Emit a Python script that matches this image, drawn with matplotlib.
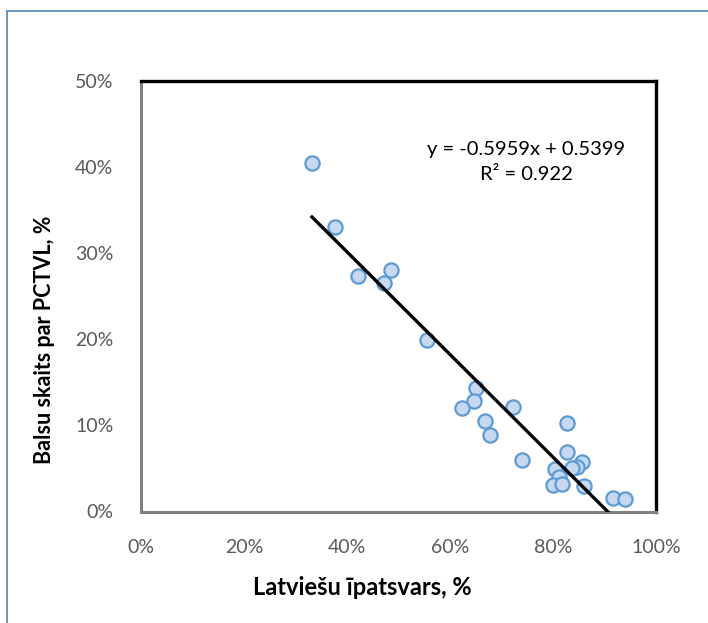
import matplotlib
matplotlib.use("Agg")
import numpy as np
from matplotlib import pyplot as plt
from matplotlib.patches import Rectangle
from matplotlib.ticker import PercentFormatter

# Data (percent)
latvian_share = [33.2, 37.7, 42.1, 48.5, 47.1, 55.5, 65.0, 64.7, 62.3, 72.2,
                 66.8, 67.8, 74.0, 82.8, 82.8, 85.6, 84.7, 83.6, 80.4, 81.2,
                 80.0, 81.7, 86.0, 91.6, 94.0]
pctvl_votes = [40.5, 33.1, 27.3, 28.1, 26.5, 19.9, 14.3, 12.8, 12.0, 12.1,
               10.5, 8.9, 6.0, 10.3, 6.9, 5.8, 5.2, 5.0, 4.9, 4.0,
               3.1, 3.2, 3.0, 1.6, 1.4]

# Trendline as printed on the chart
slope = -0.5959
intercept = 0.5399
r_squared = 0.922

x = np.array(latvian_share) / 100
y = np.array(pctvl_votes) / 100

plt.rcParams['font.family'] = ['Lato', 'DejaVu Sans']

fig = plt.figure(figsize=(7.08, 6.23), dpi=100)
ax = fig.add_axes([141 / 708, 1 - 511.5 / 623, 515 / 708, 430.5 / 623])

# Scatter points
ax.scatter(x, y, s=105, facecolor="#c6d9f1", edgecolor="#5b9bd5", linewidth=1.6, zorder=3)

# Linear trendline
line_x = np.linspace(x.min(), x.max(), 50)
ax.plot(line_x, slope * line_x + intercept, color="black", linewidth=2.4, zorder=4)

ax.text(0.748, 0.812, f"y = {slope}x + {intercept}\nR² = {r_squared}", transform=ax.transAxes,
        ha="center", va="center", fontsize=14.5, linespacing=1.55, color="black")

# Axes styling
ax.set_xlim(0, 1)
ax.set_ylim(0, 0.5)
ax.set_xticks(np.arange(0, 1.01, 0.2))
ax.set_yticks(np.arange(0, 0.51, 0.1))
ax.xaxis.set_major_formatter(PercentFormatter(1, decimals=0))
ax.yaxis.set_major_formatter(PercentFormatter(1, decimals=0))
ax.tick_params(length=0, labelsize=14, labelcolor="#595959")
ax.tick_params(axis="x", pad=20)
ax.tick_params(axis="y", pad=20)

for side in ["top", "right"]:
    ax.spines[side].set_color("black")
    ax.spines[side].set_linewidth(2.4)
for side in ["left", "bottom"]:
    ax.spines[side].set_color("#808080")
    ax.spines[side].set_linewidth(2.2)

ax.set_xlabel("Latviešu īpatsvars, %", fontsize=17, fontweight="bold")
ax.set_ylabel("Balsu skaits par PCTVL, %", fontsize=15.5, fontweight="bold")
ax.xaxis.set_label_coords(0.43, -0.15)
ax.yaxis.set_label_coords(-0.167, 0.398)

# Chart area border (only left and top visible)
fig.patches.append(Rectangle((7 / 708, -0.1), 1.2, 1 - 11 / 623 + 0.1, transform=fig.transFigure,
                             fill=False, edgecolor="#4f81bd", linewidth=1.2))

plt.savefig("out.png", dpi=100)
